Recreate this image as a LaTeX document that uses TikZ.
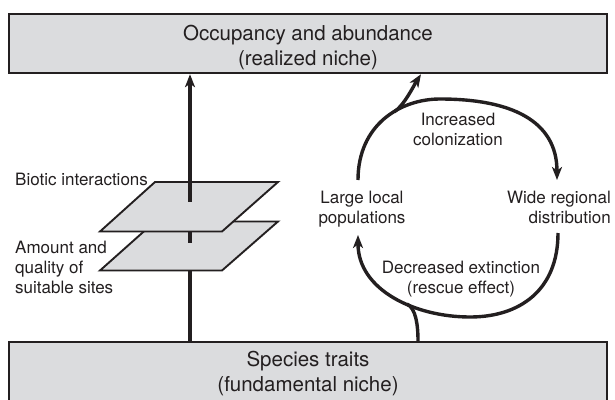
\documentclass[tikz,border=0pt]{standalone}
\usepackage{fontspec}
\setmainfont{TeX Gyre Heros}
\usetikzlibrary{arrows.meta}
\definecolor{boxfill}{RGB}{219,220,222}
\definecolor{ink}{RGB}{35,31,32}
\begin{document}
\begin{tikzpicture}[x=1pt,y=-1pt,
  box/.style={draw=ink, line width=2.4pt, fill=boxfill, rectangle, inner sep=0},
  big/.style={font=\fontsize{20.5}{25}\selectfont, align=center, inner sep=0, text=ink},
  lab/.style={font=\fontsize{17}{20}\selectfont, inner sep=0, text=ink},
  tip/.style={-{Stealth[length=13pt,width=10pt,inset=3.5pt]}},
  flow/.style={draw=ink, line width=3.2pt, tip},
  cyc/.style={draw=ink, line width=3.4pt},
  plane/.style={draw=ink, line width=1.9pt, fill=boxfill, line join=miter}]
\useasboundingbox (0,0) rectangle (615,399);
\clip (0,0) rectangle (615,399);
% boxes
\node[box, minimum width=598pt, minimum height=59pt] (occ) at (308,43.5) {};
\node[box, minimum width=598pt, minimum height=80pt] (traits) at (308,382) {};
\node[big] (occtext) at (308,48) {Occupancy and abundance\\(realized niche)};
\node[big] (traitstext) at (308,374) {Species traits\\(fundamental niche)};
% named x positions
\coordinate (lx) at (190,0);
\coordinate (rx) at (421,0);
\coordinate (bx) at (418,0);
\coordinate (j1) at (394,112);
\coordinate (j2) at (406.8,303.9);
% main left arrow
\draw[flow] (traits.north -| lx) -- (occ.south -| lx);
% plane 2 (lower)
\draw[plane] (155,221.5) -- (278,221.5) -- (222,270.5) -- (100,270.5) -- cycle;
\draw[draw=ink, line width=3.2pt] (190,225) -- (190,243);
% plane 1 (upper)
\draw[plane] (155,182) -- (278,182) -- (222,231.5) -- (100,231.5) -- cycle;
\draw[draw=ink, line width=3.2pt] (190,182) -- (190,202);
% left labels
\node[lab, anchor=base west] (biotic) at (15,185) {Biotic interactions};
\node[lab, align=left, anchor=north west] (amount) at (15,241) {Amount and\\quality of\\suitable sites};
% cycle
\draw[cyc, tip] (358,180) .. controls (358,125) and (400,99) .. (440,99)
  .. controls (510,99) and (557,120) .. (557,180);
\draw[cyc, tip] (558,233) .. controls (558,290) and (520,317) .. (470,317)
  .. controls (415,317) and (358,290) .. (358,235);
% branches
\draw[cyc, tip] (j1) .. controls (404,105.7) and (413.5,86) .. (occ.south -| rx);
\draw[cyc] (traits.north -| bx) .. controls (418,325) and (415.8,308) .. (j2);
% cycle labels
\node[lab, align=center] (incr) at (458,129) {Increased\\colonization};
\node[lab, align=center] (large) at (362,208.7) {Large local\\populations};
\node[lab, align=right, anchor=east] (wide) at (611,207) {Wide regional\\distribution};
\node[lab, align=center] (decr) at (461,279) {Decreased extinction\\(rescue effect)};
\end{tikzpicture}
\end{document}
